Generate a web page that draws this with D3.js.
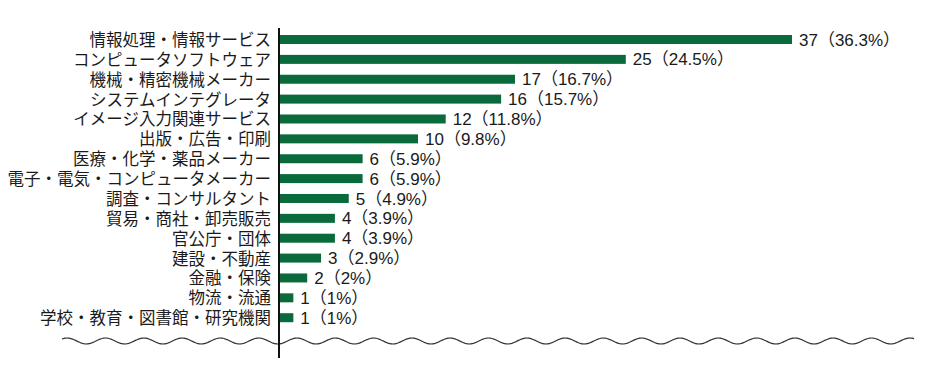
<!DOCTYPE html>
<html>
<head>
<meta charset="utf-8">
<script src="https://cdn.jsdelivr.net/npm/d3@7"></script>
<style>
    body { margin: 0; background: #fff; }
    text { font-family: "Liberation Sans", "Noto Sans CJK JP", sans-serif; fill: #1a1a1a; }
</style>
</head>
<body>
<div id="viz"></div>
<script>
// data
var categories = [
    "情報処理・情報サービス",
    "コンピュータソフトウェア",
    "機械・精密機械メーカー",
    "システムインテグレータ",
    "イメージ入力関連サービス",
    "出版・広告・印刷",
    "医療・化学・薬品メーカー",
    "電子・電気・コンピュータメーカー",
    "調査・コンサルタント",
    "貿易・商社・卸売販売",
    "官公庁・団体",
    "建設・不動産",
    "金融・保険",
    "物流・流通",
    "学校・教育・図書館・研究機関"
];
var counts = [37, 25, 17, 16, 12, 10, 6, 6, 5, 4, 4, 3, 2, 1, 1];
var percents = ["36.3", "24.5", "16.7", "15.7", "11.8", "9.8", "5.9", "5.9", "4.9", "3.9", "3.9", "2.9", "2", "1", "1"];

var width = 940, height = 387;
var green = "#0a6a3c";

var svg = d3.select("#viz").append("svg")
    .attr("width", width)
    .attr("height", height);

var x = d3.scaleLinear().domain([0, 37]).range([279.5, 792]);
var y = d3.scalePoint().domain(categories).range([39.5, 317.7]);
var barH = 9;

var rows = categories.map(function(c, i) {
    return { name: c, n: counts[i], p: percents[i] };
});

//bars
svg.selectAll("rect.bar")
    .data(rows)
    .enter().append("rect")
    .attr("class", "bar")
    .attr("x", x(0))
    .attr("y", function(d) { return y(d.name) - barH / 2; })
    .attr("width", function(d) { return x(d.n) - x(0); })
    .attr("height", barH)
    .attr("fill", green);

//value labels
svg.selectAll("text.val")
    .data(rows)
    .enter().append("text")
    .attr("class", "val")
    .attr("x", function(d) { return x(d.n) + 7; })
    .attr("y", function(d) { return y(d.name); })
    .attr("dy", "0.36em")
    .attr("font-size", 17)
    .text(function(d) { return d.n + "（" + d.p + "%）"; });

//category labels
var axis = svg.append("g")
    .attr("transform", "translate(279,0)")
    .call(d3.axisLeft(y).tickSize(0).tickPadding(8));
axis.select(".domain").remove();
axis.selectAll("text")
    .attr("font-size", 16.5)
    .attr("dy", "0.36em")
    .style("font-family", "'Noto Sans CJK JP', sans-serif")
    .style("fill", "#1a1a1a");

//wavy break line
var wx = d3.range(62, 915, 1);
var wave = d3.line()
    .x(function(d) { return d; })
    .y(function(d) { return 341 - 3 * Math.cos(2 * Math.PI * (d - 67.2) / 38.3); })
    .curve(d3.curveBasis);
svg.append("path")
    .attr("d", wave(wx))
    .attr("fill", "none")
    .attr("stroke", "#333")
    .attr("stroke-width", 1.2);

//vertical axis line
svg.append("line")
    .attr("x1", 279).attr("x2", 279)
    .attr("y1", 28).attr("y2", 358)
    .attr("stroke", "#111")
    .attr("stroke-width", 2);
</script>
</body>
</html>
